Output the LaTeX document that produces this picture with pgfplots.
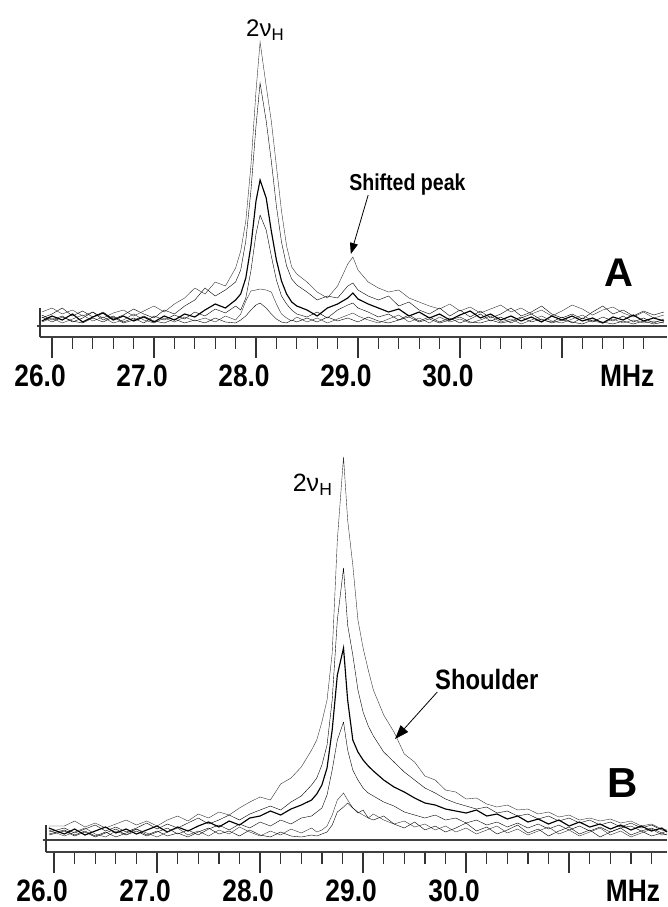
\documentclass[border=0pt]{standalone}
\usepackage{fontspec}
\setmainfont{Liberation Sans}
\newfontfamily\narrowfont[FakeStretch=0.85]{Liberation Sans}
\usepackage{pgfplots}
\pgfplotsset{compat=1.18}
\usepackage{pgfplotstable}
\usetikzlibrary{arrows.meta}

\pgfplotstableread{
x a1 a2 a3 a4 a5 a6
25.9 14 8 5 11 4 9
26.0 18 12 10 6 8 4
26.1 12 18 6 10 3 9
26.2 16 10 12 4 7 5
26.3 10 15 4 8 11 3
26.4 14 9 9 14 5 8
26.5 8 14 13 6 9 4
26.6 13 7 6 10 3 9
26.7 16 11 10 4 6 3
26.8 10 17 5 8 12 6
26.9 15 12 9 3 6 10
27.0 20 8 4 10 3 5
27.1 14 16 10 6 8 3
27.2 22 12 6 11 4 7
27.3 28 20 12 7 9 3
27.4 38 26 9 14 5 6
27.5 32 38 16 10 8 3
27.6 44 30 22 17 4 8
27.7 40 36 18 13 10 4
27.8 58 44 26 20 6 3
27.85 75 56 32 16 12 6
27.9 105 85 48 28 25 10
27.95 160 135 80 55 35 16
28.0 235 200 125 92 36 21
28.04 284 243 146 111 37 23
28.1 240 205 128 96 36 18
28.15 205 165 95 70 34 12
28.2 160 120 66 46 22 7
28.25 115 84 45 30 12 4
28.3 80 60 32 22 8 3
28.35 59 47 24 16 5 6
28.4 52 41 20 12 9 4
28.5 44 34 16 9 4 8
28.6 34 26 10 14 8 4
28.7 28 30 18 8 3 9
28.8 40 28 22 16 7 5
28.9 62 40 28 21 11 8
28.95 69 43 33 23 13 6
29.0 56 36 27 18 10 4
29.1 44 30 22 14 6 9
29.2 38 26 18 9 3 5
29.3 34 30 14 12 7 3
29.4 36 20 17 6 11 6
29.5 28 24 10 11 4 9
29.6 24 16 14 5 8 4
29.7 20 12 8 9 3 7
29.8 17 18 12 4 9 3
29.9 22 10 6 8 4 6
30.0 15 16 11 3 7 9
30.1 19 9 15 7 3 4
30.2 13 15 8 12 6 3
30.3 17 8 12 5 10 6
30.4 21 12 6 9 4 3
30.5 14 18 10 3 7 5
30.6 18 10 5 8 2 9
30.7 12 14 9 12 6 4
30.8 16 20 4 6 10 7
30.9 10 12 10 4 5 3
31.0 15 8 6 9 3 6
31.1 21 12 10 3 7 4
31.2 17 7 5 8 11 2
31.3 11 14 8 4 5 6
31.4 16 20 3 9 3 4
31.5 19 12 9 5 7 2
31.6 13 16 6 10 3 5
31.7 9 10 11 4 6 2
31.8 14 15 5 8 3 5
31.9 8 11 8 3 5 2
32.0 11 14 5 7 3 4
}\tabA

\pgfplotstableread{
x b1 b2 b3 b4 b5 b6
25.95 14 8 12 5 10 6
26.1 14 12 6 9 4 10
26.2 19 7 11 4 8 5
26.3 13 11 5 8 12 9
26.4 17 15 9 3 6 4
26.5 12 9 13 7 3 8
26.6 16 13 7 11 9 3
26.7 20 8 11 5 5 7
26.8 15 12 6 9 11 11
26.9 19 17 10 4 7 5
27.0 14 11 14 8 3 9
27.1 20 16 8 12 8 4
27.2 24 12 13 6 12 7
27.3 19 17 9 10 5 3
27.4 26 22 14 5 9 8
27.5 22 16 18 11 4 12
27.6 28 20 13 15 10 6
27.7 25 25 19 10 6 9
27.8 32 20 15 16 13 4
27.9 38 26 22 12 8 10
28.0 43 30 24 18 4 5
28.1 40 34 29 14 9 3
28.2 56 30 25 20 5 8
28.3 62 38 31 16 11 4
28.4 73 44 35 22 7 3
28.5 90 55 40 24 12 5
28.55 100 62 46 28 8 4
28.6 118 75 55 32 10 6
28.65 140 95 72 45 14 8
28.7 187 140 110 70 25 15
28.75 300 220 165 100 40 28
28.81 383 272 192 118 47 33
28.85 320 215 140 90 40 37
28.9 275 185 100 70 32 32
28.95 220 150 88 60 28 27
29.0 192 128 80 52 25 30
29.05 170 114 74 47 22 22
29.1 150 104 69 44 26 20
29.2 125 88 60 38 20 24
29.3 108 78 53 34 16 16
29.4 86 68 48 28 19 12
29.5 78 60 42 25 13 18
29.6 64 52 37 22 16 10
29.7 60 47 35 25 10 14
29.8 50 41 31 20 14 8
29.9 48 37 29 22 8 12
30.0 41 34 27 17 12 17
30.1 42 31 30 20 6 9
30.2 36 33 24 15 10 13
30.3 33 27 26 18 14 6
30.4 35 29 21 13 7 10
30.5 30 24 24 17 11 15
30.6 31 26 18 12 5 7
30.7 26 21 21 16 9 11
30.8 28 24 16 11 13 4
30.9 23 19 20 15 6 9
31.0 25 22 14 10 10 13
31.1 20 17 18 14 4 6
31.2 22 20 13 9 8 10
31.3 19 15 16 13 12 3
31.4 21 18 11 8 5 8
31.5 17 13 15 12 9 12
31.6 19 17 10 14 3 5
31.7 14 12 14 9 7 9
31.8 16 15 9 12 11 4
31.9 11 10 12 7 5 7
31.95 10 9 8 9 6 5
}\tabB

\pgfplotsset{
  spec/.style={
    scale only axis, clip=false,
    axis x line*=bottom, axis y line=none,
    xtick={26,27,28,29,30,31},
    xticklabels={26.0,27.0,28.0,29.0,30.0,{}},
    minor xtick={26.2,26.4,26.6,26.8,27.2,27.4,27.6,27.8,28.2,28.4,28.6,28.8,29.2,29.4,29.6,29.8,30.2,30.4,30.6,30.8,31.2,31.4,31.6,31.8},
    tick align=outside,
    major tick length=21pt, minor tick length=12pt,
    every tick/.style={line width=1.3pt, black!80},
    axis line style={line width=1.6pt, black!75},
    xticklabel style={font={\narrowfont\bfseries\fontsize{31}{33}\selectfont}, inner sep=0pt, xshift=-12pt, yshift=-7pt},
    cycle list={{black!80, solid, line width=1.15pt, line join=round}},
    every axis plot/.append style={no markers},
  },
}
\tikzset{lab/.style={font={\narrowfont\bfseries\fontsize{31}{33}\selectfont}, inner sep=0pt, anchor=north}}

\begin{document}
\begin{tikzpicture}
\useasboundingbox (0,0) rectangle (667pt,-907pt);

% Panel A
\begin{axis}[spec, at={(40pt,-337pt)}, anchor=south west,
  width=627pt, height=311pt, xmin=25.882, xmax=32.03, ymin=-11, ymax=300]
  \addplot table[x=x,y=a1] {\tabA};
  \addplot table[x=x,y=a2] {\tabA};
  \addplot table[x=x,y=a3] {\tabA};
  \addplot table[x=x,y=a4] {\tabA};
  \addplot table[x=x,y=a5] {\tabA};
  \addplot table[x=x,y=a6] {\tabA};
  \draw[line width=1.6pt, black!75] (axis cs:25.85,0) -- (axis cs:32.03,0);
  \draw[line width=1.2pt, black!80] (axis cs:25.882,-11) -- (axis cs:25.882,18);
  \node[font=\fontsize{24}{26}\selectfont] at (axis cs:28.09,296) {2ν\textsubscript{H}};
  \node[anchor=west, font={\narrowfont\bfseries\fontsize{23}{25}\selectfont}] at (axis cs:28.88,141) {Shifted peak};
  \draw[-{Triangle[length=11pt,width=8pt]}, line width=0.8pt] (axis cs:29.10,131) -- (axis cs:28.93,72);
  \node[font=\bfseries\fontsize{40}{42}\selectfont] at (axis cs:31.56,53) {A};
  \node[lab] at (axis cs:31.64,-39) {MHz};
\end{axis}

% Panel B
\begin{axis}[spec, at={(46pt,-852pt)}, anchor=south west,
  width=621pt, height=412pt, xmin=25.922, xmax=31.95, ymin=-12, ymax=400]
  \addplot table[x=x,y=b1] {\tabB};
  \addplot table[x=x,y=b2] {\tabB};
  \addplot table[x=x,y=b3] {\tabB};
  \addplot table[x=x,y=b4] {\tabB};
  \addplot table[x=x,y=b5] {\tabB};
  \addplot table[x=x,y=b6] {\tabB};
  \draw[line width=1.6pt, black!75] (axis cs:25.89,0) -- (axis cs:31.95,0);
  \draw[line width=1.2pt, black!80] (axis cs:25.922,-12) -- (axis cs:25.922,15);
  \node[font=\fontsize{25}{27}\selectfont] at (axis cs:28.51,355) {2ν\textsubscript{H}};
  \node[font={\narrowfont\bfseries\fontsize{28}{30}\selectfont}] at (axis cs:30.20,161) {Shoulder};
  \draw[-{Triangle[length=14pt,width=10pt]}, line width=0.8pt] (axis cs:29.72,148) -- (axis cs:29.31,101);
  \node[font=\bfseries\fontsize{42}{44}\selectfont] at (axis cs:31.52,57) {B};
  \node[lab] at (axis cs:31.62,-40) {MHz};
\end{axis}
\end{tikzpicture}
\end{document}
